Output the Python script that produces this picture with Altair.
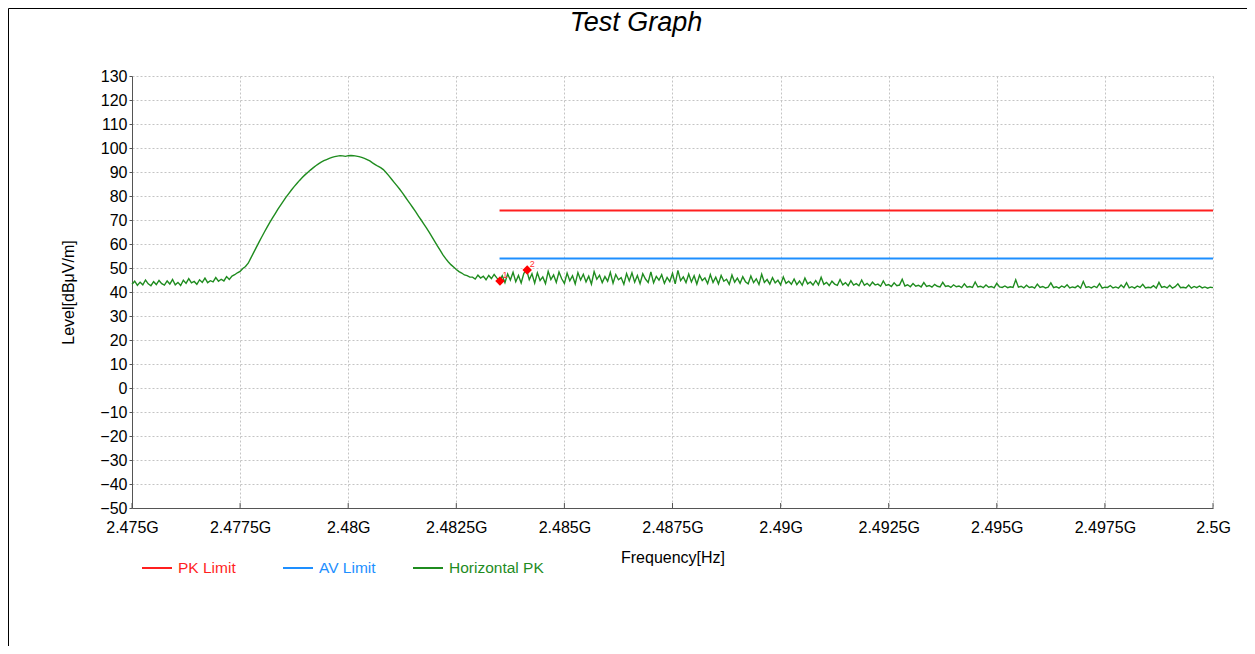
import altair as alt
import pandas as pd

# ---------------- data ----------------
f_start = 2.475
f_step = 0.0000625  # GHz per sweep point

trace_levels = [
    43.2, 44.5, 42.8, 44.1, 43.0, 45.0, 43.4, 42.6, 44.3, 43.1,
    44.8, 43.5, 42.9, 44.6, 43.3, 45.2, 43.0, 44.0, 42.7, 44.9,
    43.6, 45.6, 43.8, 44.4, 43.2, 45.1, 44.0, 45.8, 43.9, 44.7,
    44.2, 46.0, 44.5, 45.3, 44.6, 46.4, 45.2, 46.6,
    47.2, 48.0, 48.6, 49.8, 50.6, 52.0, 54.2, 56.4, 58.6, 60.8,
    62.9, 65.0, 67.0, 69.0, 70.9, 72.7, 74.5, 76.2, 77.9, 79.5,
    81.0, 82.5, 83.9, 85.2, 86.5, 87.7, 88.8, 89.8, 90.8, 91.7,
    92.6, 93.4, 94.1, 94.7, 95.2, 95.7, 96.1, 96.4, 96.6, 96.8,
    96.7, 96.5, 96.8, 96.9, 96.8, 96.6, 96.4, 96.1, 95.7, 95.2,
    94.6, 93.8, 93.1, 92.4, 91.8, 91.0, 89.8, 88.5, 87.1, 85.7,
    84.3, 82.9, 81.4, 79.8, 78.2, 76.6, 75.0, 73.4, 71.6, 70.0,
    68.3, 66.6, 64.8, 63.0, 61.1, 59.2, 57.4, 55.6, 54.0, 52.6,
    51.4, 50.4, 49.4, 48.5, 47.9, 47.1, 46.8, 46.2,
    46.2, 45.4, 47.0, 45.8, 46.6, 45.1, 46.9, 45.6, 47.3, 45.9,
    44.6, 46.8, 43.9, 47.5, 45.0, 48.2, 44.3, 46.9, 43.8, 47.8,
    49.2, 45.1, 47.6, 43.7, 48.0, 44.8, 46.3, 43.5, 48.6, 45.2,
    47.1, 44.0, 48.3, 45.5, 43.6, 47.9, 44.7, 46.8, 43.4, 48.1,
    45.0, 47.4, 44.2, 46.6, 43.3, 48.5, 45.3, 47.0, 43.9, 46.4,
    44.5, 48.2, 43.7, 47.3, 45.1, 46.0, 43.2, 47.7, 44.6, 48.0,
    44.1, 46.9, 43.5, 47.6, 45.4, 44.0, 48.4, 43.8, 46.5, 44.9,
    47.2, 43.6, 46.1, 44.3, 47.8, 43.4, 49.0, 44.7, 46.3, 43.9,
    47.5, 44.2, 46.8, 43.3, 47.0, 44.8, 45.9, 43.5, 47.3, 44.0,
    46.2, 43.4, 46.9, 44.5, 45.3, 43.2, 47.1, 44.1, 45.8, 43.6,
    46.4, 44.3, 43.4, 46.7, 43.9, 45.5, 43.1, 47.4, 44.0, 45.2,
    43.3, 46.0, 43.8, 44.9, 43.0, 46.3, 43.6, 44.5, 43.2, 45.4,
    43.1, 44.6, 42.8, 45.8, 43.4, 44.2, 42.9, 44.8, 43.0, 46.1,
    43.2, 44.0, 42.7, 44.5, 43.3, 42.8, 45.2, 43.0, 43.9, 42.6,
    44.7, 42.9, 43.5, 42.6, 45.0, 42.8, 43.6, 42.5, 44.1, 42.9,
    43.3, 42.4, 44.6, 42.7, 43.1, 42.3, 43.8, 42.6, 42.9, 45.3,
    42.5, 43.0, 42.2, 43.5, 42.4, 42.8, 42.1, 43.9, 42.3, 42.7,
    42.0, 43.2, 42.4, 42.1, 44.0, 42.3, 42.6, 41.9, 43.0, 42.2,
    42.5, 41.8, 43.4, 42.0, 42.3, 41.9, 44.2, 42.1, 42.4, 41.8,
    42.9, 42.0, 42.3, 41.7, 43.6, 42.1, 41.9, 42.5, 41.8, 42.2,
    41.9, 45.1, 42.0, 42.4, 41.7, 42.8, 41.9, 42.2, 41.6, 43.3,
    41.9, 42.3, 41.7, 42.0, 43.8, 41.8, 42.2, 41.6, 42.5, 41.9,
    43.0, 41.7, 42.1, 41.8, 42.6, 41.6, 44.4, 41.9, 42.2, 41.7,
    42.4, 41.8, 43.5, 41.6, 42.0, 41.9, 42.7, 41.7, 42.1, 41.6,
    42.9, 41.8, 43.9, 41.7, 42.2, 41.6, 42.5, 41.9, 43.2, 41.7,
    42.0, 41.8, 42.6, 41.6, 44.0, 41.9, 42.3, 41.7, 42.8, 41.6,
    42.2, 43.4, 41.8, 42.0, 41.7, 42.9, 41.6, 42.3, 41.8, 42.5,
    41.7, 42.1, 41.6, 42.0, 41.8,
]
trace_freqs = [round(f_start + i * f_step, 8) for i in range(len(trace_levels))]

pk_limit_freqs = [2.4835, 2.5]
pk_limit_levels = [74, 74]
av_limit_freqs = [2.4835, 2.5]
av_limit_levels = [54, 54]

marker_freqs = [2.48351, 2.48414]
marker_levels = [44.6, 49.2]
marker_labels = ["1", "2"]

x_ticks = [2.475, 2.4775, 2.48, 2.4825, 2.485, 2.4875, 2.49, 2.4925, 2.495, 2.4975, 2.5]
y_ticks = list(range(-50, 131, 10))

legend_names = ["PK Limit", "AV Limit", "Horizontal PK"]
legend_colors = ["#ff1f1f", "#1e8fff", "#1f8c1f"]

FONT = "Liberation Sans"
W, H = 1081, 432

trace_df = pd.DataFrame({"freq": trace_freqs, "level": trace_levels})
pk_df = pd.DataFrame({"freq": pk_limit_freqs, "level": pk_limit_levels})
av_df = pd.DataFrame({"freq": av_limit_freqs, "level": av_limit_levels})
mk_df = pd.DataFrame({"freq": marker_freqs, "level": marker_levels, "label": marker_labels})
tick_df = pd.DataFrame({"freq": x_ticks})
dummy = pd.DataFrame({"a": [0]})

xscale = alt.Scale(domain=[2.475, 2.5], nice=False, zero=False)
yscale = alt.Scale(domain=[-50, 130], nice=False, zero=False)

x_axis = alt.Axis(
    values=x_ticks, labelExpr="format(datum.value, '~g') + 'G'",
    title="Frequency[Hz]", titleX=W / 2, titleY=49, titleBaseline="middle",
    titleAlign="center", ticks=False, labelPadding=11,
    grid=True, gridDash=[2, 2], gridColor="#c4c4c4",
    domainColor="#555555", labelFlush=False, labelOverlap=False,
)
y_axis = alt.Axis(
    values=y_ticks, title="Level[dBμV/m]", titleX=-64, titleY=H / 2,
    titleBaseline="middle", titleAlign="center", titleAngle=270,
    tickSize=3, tickColor="#555555", labelPadding=2,
    grid=True, gridDash=[2, 2], gridColor="#c4c4c4",
    domainColor="#555555", labelOverlap=False, labelFlush=False,
)

X = alt.X("freq:Q", scale=xscale, axis=x_axis)
Y = alt.Y("level:Q", scale=yscale, axis=y_axis)

trace = alt.Chart(trace_df).mark_line(color=legend_colors[2], strokeWidth=1.4).encode(x=X, y=Y)
pk = alt.Chart(pk_df).mark_line(color=legend_colors[0], strokeWidth=2).encode(x=X, y=Y)
av = alt.Chart(av_df).mark_line(color=legend_colors[1], strokeWidth=2).encode(x=X, y=Y)
markers = alt.Chart(mk_df).mark_point(
    shape="diamond", filled=True, color="#ff0000", size=90, opacity=1
).encode(x=X, y=Y)
marker_text = alt.Chart(mk_df).mark_text(
    color="#ff3030", fontSize=9, font=FONT, dx=5, dy=-6
).encode(x=X, y=Y, text="label:N")
xticks_in = alt.Chart(tick_df).mark_rule(color="#555555", strokeWidth=1).encode(
    x=X, y=alt.value(H), y2=alt.value(H - 5),
)

title = alt.Chart(dummy).mark_text(
    text="Test Graph", fontSize=27, fontStyle="italic", font=FONT, color="black",
    align="center", baseline="middle",
).encode(x=alt.value(504), y=alt.value(-53))

frame = alt.Chart(dummy).mark_rect(fillOpacity=0, stroke="black", strokeWidth=1).encode(
    x=alt.value(-123.5), y=alt.value(-67.5), x2=alt.value(1300), y2=alt.value(800)
)

legend_layers = []
line_x = [10, 151, 281]
for name, col, lx in zip(legend_names, legend_colors, line_x):
    legend_layers.append(
        alt.Chart(dummy).mark_rule(color=col, strokeWidth=2).encode(
            x=alt.value(lx), x2=alt.value(lx + 30), y=alt.value(492)
        )
    )
    legend_layers.append(
        alt.Chart(dummy).mark_text(
            text=name, color=col, fontSize=15.5, font=FONT, align="left", baseline="middle"
        ).encode(x=alt.value(lx + 36), y=alt.value(492))
    )

chart = alt.layer(
    trace, pk, av, markers, marker_text, xticks_in, title, frame, *legend_layers
).properties(
    width=W, height=H,
    autosize=alt.AutoSizeParams(type="none"),
    padding={"left": 124, "top": 68, "right": 34, "bottom": 138},
).configure_view(strokeWidth=0).configure_axis(
    labelFont=FONT, titleFont=FONT, labelFontSize=16, titleFontSize=16,
    labelColor="black", titleColor="black", titleFontWeight="normal",
)

chart.save("out.html", embed_options={"renderer": "svg", "actions": False})
